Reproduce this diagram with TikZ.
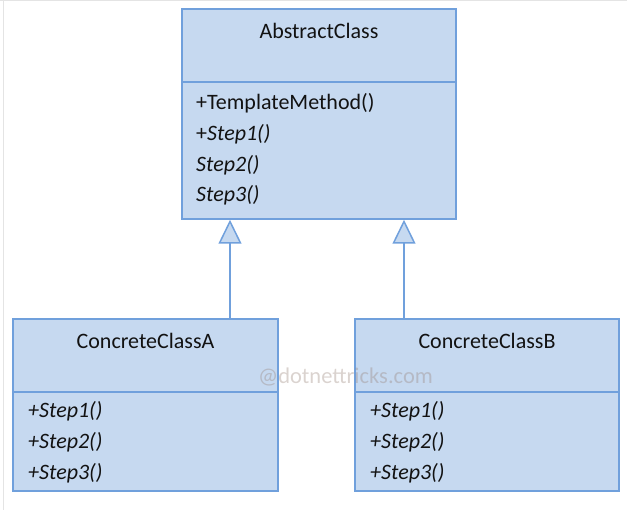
\documentclass[tikz,border=0pt]{standalone}
\usepackage{fontspec}
\setmainfont{Carlito}
\usetikzlibrary{arrows.meta}

\definecolor{boxfill}{RGB}{198,217,240}
\definecolor{boxline}{RGB}{112,160,220}
\definecolor{textdark}{RGB}{18,18,18}
\definecolor{framegray}{RGB}{228,228,228}
\definecolor{wmark}{RGB}{150,128,118}

\tikzset{
  classbox/.style={draw=boxline, fill=boxfill, line width=1.5pt, inner sep=0pt},
  divider/.style={draw=boxline, line width=1.5pt},
  title/.style={anchor=base, text=textdark, inner sep=0pt, font=\fontsize{22}{26}\selectfont},
  member/.style={anchor=base west, text=textdark, inner sep=0pt, font=\fontsize{22}{26}\selectfont},
  abstractop/.style={member, font=\fontsize{22}{26}\selectfont\itshape},
  inherits/.style={draw=boxline, line width=1.5pt,
    -{Triangle[length=24pt, width=23pt, fill=boxfill]}},
}

\begin{document}
\begin{tikzpicture}[x=1pt, y=1pt]
  \useasboundingbox (0,0) rectangle (627,-510);

  % light frame on the top and left edges
  \draw[framegray, line width=1pt] (0,-0.5) -- (627,-0.5);
  \draw[framegray, line width=1pt] (3,0) -- (3,-510);

  % abstract base class
  \node[classbox, minimum width=274pt, minimum height=210pt] (abs) at (319,-114) {};
  \draw[divider] (abs.west |- 0,-82) -- (abs.east |- 0,-82);
  \node[title] (absname) at (319,-39) {AbstractClass};
  \node[member] (absm1) at (196,-110) {+TemplateMethod()};
  \node[member] (absm2) at (196,-141) {+\textit{Step1()}};
  \node[abstractop] (absm3) at (196,-172) {Step2()};
  \node[abstractop] (absm4) at (196,-202) {Step3()};

  % concrete class A
  \node[classbox, minimum width=265pt, minimum height=172pt] (ca) at (145.5,-405) {};
  \draw[divider] (ca.west |- 0,-392) -- (ca.east |- 0,-392);
  \node[title] (caname) at (145.5,-349) {ConcreteClassA};
  \node[abstractop] (cam1) at (28,-418) {+Step1()};
  \node[abstractop] (cam2) at (28,-449) {+Step2()};
  \node[abstractop] (cam3) at (28,-480) {+Step3()};

  % concrete class B
  \node[classbox, minimum width=264pt, minimum height=172pt] (cb) at (487,-405) {};
  \draw[divider] (cb.west |- 0,-392) -- (cb.east |- 0,-392);
  \node[title] (cbname) at (487,-349) {ConcreteClassB};
  \node[abstractop] (cbm1) at (370,-418) {+Step1()};
  \node[abstractop] (cbm2) at (370,-449) {+Step2()};
  \node[abstractop] (cbm3) at (370,-480) {+Step3()};

  % generalisation arrows
  \coordinate (ga) at (230,0);
  \coordinate (gb) at (404,0);
  \draw[inherits] (ca.north -| ga) -- (abs.south -| ga);
  \draw[inherits] (cb.north -| gb) -- (abs.south -| gb);

  % watermark
  \node[anchor=base, inner sep=0pt, text=wmark, text opacity=0.35,
        font=\fontsize{22.5}{26}\selectfont] (wm) at (345.5,-384) {@dotnettricks.com};
\end{tikzpicture}
\end{document}
